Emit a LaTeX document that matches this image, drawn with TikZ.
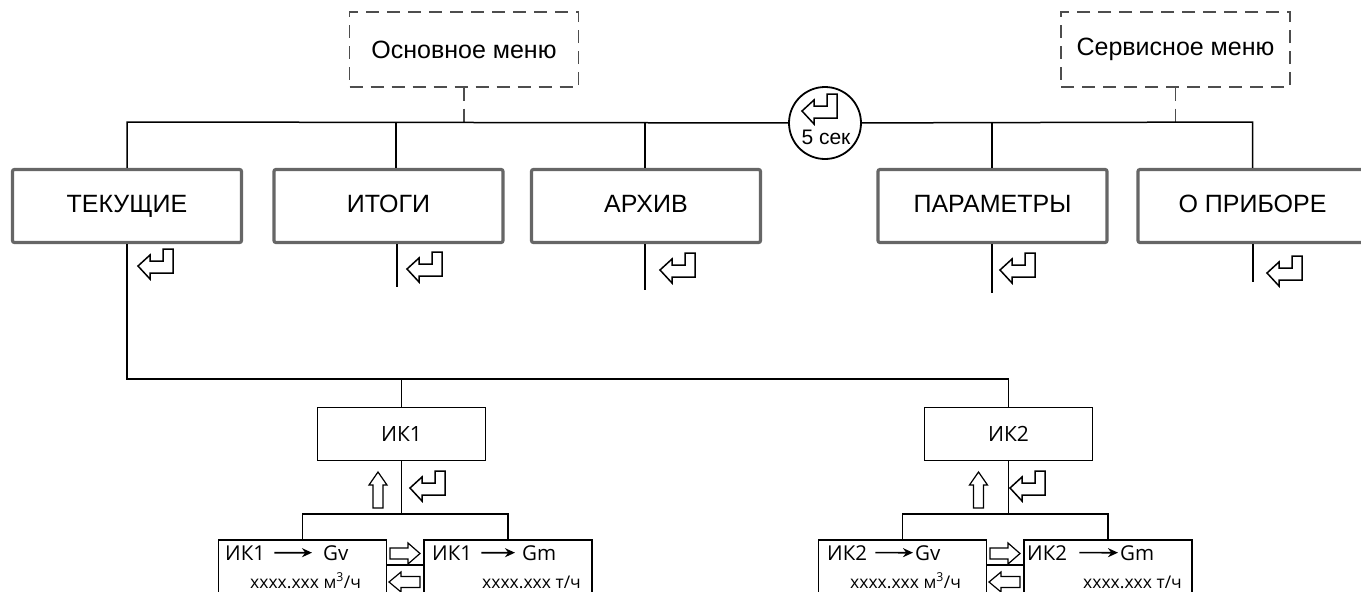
\documentclass[tikz,border=0pt]{standalone}
\usepackage{fontspec}
\setmainfont{Liberation Sans}
\newfontfamily\opens{Open Sans}
\usetikzlibrary{arrows.meta}
\definecolor{boxgray}{HTML}{666666}
\definecolor{dashgray}{HTML}{4d4d4d}
\tikzset{
  enterkey/.pic={\draw[line width=1.5pt,line join=miter,fill=white] (0,18) -- (12,7) -- (12,13) -- (25,13) -- (25,1) -- (35,1) -- (35,25) -- (12,25) -- (12,31) -- cycle;},
  rarrowkey/.pic={\draw[line width=1.2pt,line join=miter,fill=white] (0,-5.5) -- (18,-5.5) -- (18,-10.5) -- (30,0) -- (18,10.5) -- (18,5.5) -- (0,5.5) -- cycle;},
  larrowkey/.pic={\draw[line width=1.2pt,line join=miter,fill=white] (0,0) -- (12,-10) -- (12,-5.5) -- (31,-5.5) -- (31,5.5) -- (12,5.5) -- (12,10) -- cycle;},
  uarrowkey/.pic={\draw[line width=1.2pt,line join=miter,fill=white] (0,0) -- (9,13) -- (5,13) -- (5,36) -- (-5,36) -- (-5,13) -- (-9,13) -- cycle;}
}
\begin{document}
\begin{tikzpicture}[x=1pt,y=-1pt,
  topbox/.style={draw=boxgray,line width=3.2pt,rounded corners=2pt,minimum width=229pt,minimum height=73pt,inner sep=0pt,text height=18pt,text depth=5pt,font=\fontsize{25}{30}\selectfont},
  menubox/.style={draw=dashgray,line width=1.3pt,dash pattern=on 13pt off 8pt,minimum width=229pt,minimum height=75pt,inner sep=0pt,font=\fontsize{25}{30}\selectfont},
  menulink/.style={draw=dashgray,line width=1.3pt,dash pattern=on 13pt off 8pt},
  link/.style={draw=black,line width=1.5pt},
  ikbox/.style={draw,line width=1.8pt,minimum width=168pt,minimum height=53pt,inner sep=0pt,font=\opens\fontsize{21}{25}\selectfont},
  chbox/.style={draw,line width=1.8pt,minimum width=168pt,minimum height=80pt,inner sep=0pt,anchor=north},
  chtxt/.style={inner sep=0pt,anchor=base west,font=\opens\fontsize{20.5}{24}\selectfont},
  valtxt/.style={inner sep=0pt,anchor=base west,font=\opens\fontsize{17.5}{21}\selectfont},
  flow/.style={line width=1.7pt,-{Stealth[length=10pt,width=9pt]}}
]
\useasboundingbox (0,0) rectangle (1361,592);
% menu headers
\node[menubox] (osn) at (464,49.5) {Основное меню};
\node[menubox] (srv) at (1175.5,49.5) {Сервисное меню};
\coordinate (busy) at (0,122);
\coordinate (lowy) at (0,379);
% circle
\node[circle,draw,line width=1.8pt,minimum size=72pt,inner sep=0pt] (circ) at (825,123) {};
\pic at (802,93) {enterkey};
\node[inner sep=0pt,anchor=base,font=\fontsize{21}{25}\selectfont] (sek) at (826,144) {5 сек};
% top boxes
\node[topbox] (tek) at (127,206) {ТЕКУЩИЕ};
\node[topbox] (itg) at (388.5,206) {ИТОГИ};
\node[topbox] (arh) at (646,206) {АРХИВ};
\node[topbox] (par) at (992.5,206) {ПАРАМЕТРЫ};
\node[topbox] (opr) at (1252.5,206) {О ПРИБОРЕ};
% dashed links
\draw[menulink] (osn.south) -- (osn.south |- busy);
\draw[menulink] (srv.south) -- (srv.south |- busy);
% bus
\coordinate (c2) at (396,122);
\coordinate (c3) at (645,122);
\coordinate (c4) at (992,122);
\draw[link] (tek.north) -- (tek.north |- busy) -- (circ);
\draw[link] (circ) -- (opr.north |- busy) -- (opr.north);
\draw[link] (itg.north -| c2) -- (c2);
\draw[link] (arh.north -| c3) -- (c3);
\draw[link] (par.north -| c4) -- (c4);
% stubs below top boxes
\coordinate (e2) at (397,287);
\coordinate (e3) at (645,290);
\coordinate (e4) at (992,293);
\coordinate (e5) at (1253,282);
\draw[link] (itg.south -| e2) -- (e2);
\draw[link] (arh.south -| e3) -- (e3);
\draw[link] (par.south -| e4) -- (e4);
\draw[link] (opr.south -| e5) -- (e5);
\pic at (138,248) {enterkey};
\pic at (407,251) {enterkey};
\pic at (660,252) {enterkey};
\pic at (1000,252) {enterkey};
\pic at (1267,255) {enterkey};
% channel boxes
\node[ikbox] (ik1) at (401.5,434) {ИК1};
\node[ikbox] (ik2) at (1008.5,434) {ИК2};
\draw[link] (tek.south) -- (tek.south |- lowy) -- (ik2.north |- lowy) -- (ik2.north);
\draw[link] (ik1.north |- lowy) -- (ik1.north);
\coordinate (br) at (0,514);
\coordinate (sep) at (0,565);
% lower boxes IK1
\node[chbox] (gv1) at (302.5,539) {};
\node[chbox] (gm1) at (508,539) {};
\draw[link] (ik1.south) -- (ik1.south |- br);
\draw[link] (gv1.north) -- (gv1.north |- br) -- (gm1.north |- br) -- (gm1.north);
\draw[link] (gv1.east |- sep) -- (gm1.west |- sep);
\pic at (378,472) {uarrowkey};
\pic at (410,470) {enterkey};
\pic at (390,553.5) {rarrowkey};
\pic at (389,582) {larrowkey};
\node[chtxt] (a1) at (225,560) {ИК1};
\node[chtxt] (b1) at (323,560) {Gv};
\draw[flow,shorten <=9pt,shorten >=11pt] (a1.east) -- (b1.west);
\node[chtxt] (a2) at (432,560) {ИК1};
\node[chtxt] (b2) at (522,560) {Gm};
\draw[flow,shorten <=9pt,shorten >=7pt] (a2.east) -- (b2.west);
\node[valtxt] (v1) at (250,588) {xxxx.xxx м\textsuperscript{3}/ч};
\node[valtxt] (m1) at (482,588) {xxxx.xxx т/ч};
% lower boxes IK2
\node[chbox] (gv2) at (902.5,539) {};
\node[chbox] (gm2) at (1108,539) {};
\draw[link] (ik2.south) -- (ik2.south |- br);
\draw[link] (gv2.north) -- (gv2.north |- br) -- (gm2.north |- br) -- (gm2.north);
\draw[link] (gv2.east |- sep) -- (gm2.west |- sep);
\pic at (978.5,472) {uarrowkey};
\pic at (1010,470) {enterkey};
\pic at (990,553.5) {rarrowkey};
\pic at (989,582) {larrowkey};
\node[chtxt] (a3) at (827,560) {ИК2};
\node[chtxt] (b3) at (915,560) {Gv};
\draw[flow,shorten <=8pt,shorten >=2pt] (a3.east) -- (b3.west);
\node[chtxt] (a4) at (1027,560) {ИК2};
\node[chtxt] (b4) at (1120,560) {Gm};
\draw[flow,shorten <=12pt,shorten >=2pt] (a4.east) -- (b4.west);
\node[valtxt] (v2) at (850,588) {xxxx.xxx м\textsuperscript{3}/ч};
\node[valtxt] (m2) at (1083,588) {xxxx.xxx т/ч};
\end{tikzpicture}
\end{document}
